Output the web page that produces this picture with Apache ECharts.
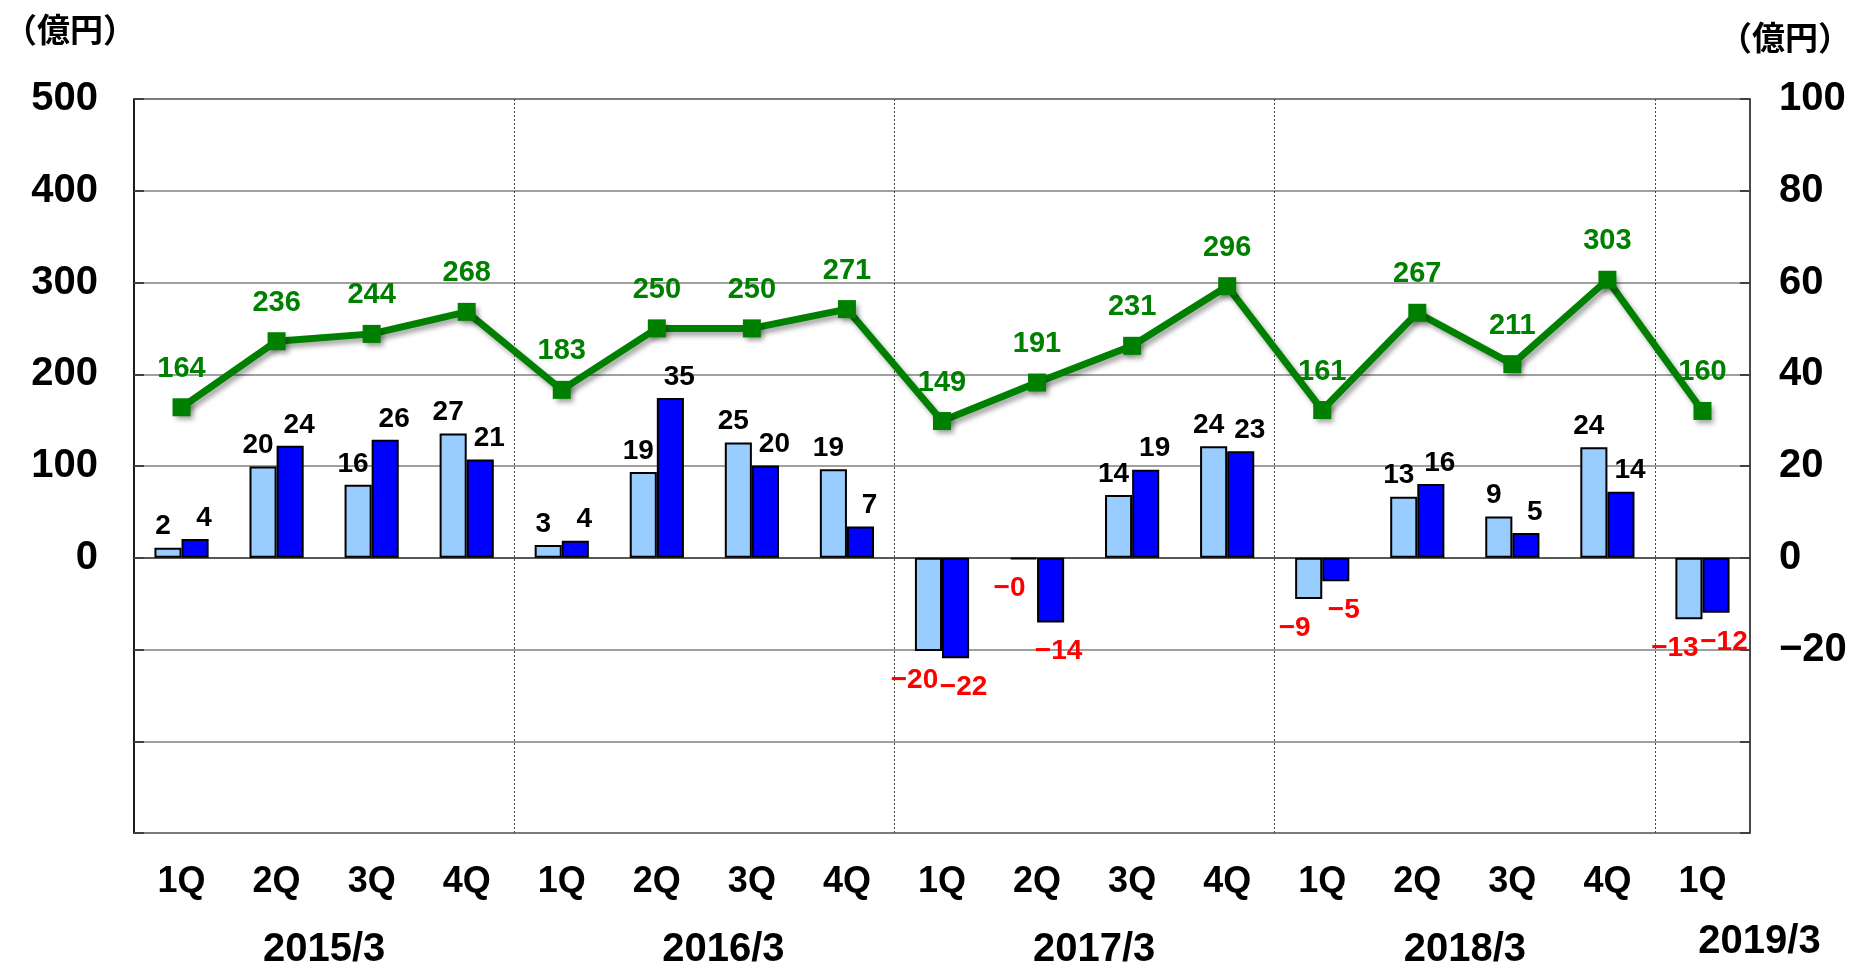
<!DOCTYPE html>
<html><head><meta charset="utf-8">
<script src="https://cdn.jsdelivr.net/npm/echarts@6/dist/echarts.min.js"></script>
<style>html,body{margin:0;padding:0;background:#fff;}#c{width:1853px;height:968px;}</style>
</head><body><div id="c"></div>
<script>
const categories = ['1Q','2Q','3Q','4Q','1Q','2Q','3Q','4Q','1Q','2Q','3Q','4Q','1Q','2Q','3Q','4Q','1Q'];
const years = ['2015/3','2016/3','2017/3','2018/3','2019/3'];
const yearPos = [2.0, 6.2, 10.1, 14.0, 17.1];
const lineValues = [164,236,244,268,183,250,250,271,149,191,231,296,161,267,211,303,160];
const lightValues = [2.2,19.9,15.9,27.1,2.8,18.7,25.1,19.3,-20.3,-0.3,13.7,24.3,-9.0,13.3,9.0,24.1,-13.4];
const darkValues = [4.1,24.4,25.7,21.4,3.7,34.8,20.1,6.8,-21.9,-14.1,19.2,23.2,-5.1,16.1,5.4,14.4,-12.0];
const leftTicks = {min:-300, max:500, interval:100};
const rightTicks = {min:-60, max:100, interval:20};

const FONT = "'Liberation Sans Narrow','Liberation Sans',sans-serif";
const fmtSigned = v => (v < 0 || Object.is(v, -0)) ? '\u2212' + Math.abs(Math.round(v)) : String(Math.round(v));

function barData(vals, negOffsetX){
  return vals.map(v => ({value: v, label: v < 0
    ? {color: '#FF0000', distance: 15, offset: [negOffsetX, 0]}
    : {color: '#000000'}}));
}

const chart = echarts.init(document.getElementById('c'), null, {renderer:'canvas'});
const titleStyle = {fontFamily: "'Noto Sans CJK JP'", fontWeight: 'bold', fontSize: 33, color: '#000'};
chart.setOption({
  animation: false,
  backgroundColor: '#ffffff',
  title: [
    {text: '（億円）', left: -1, top: 8, textStyle: titleStyle},
    {text: '（億円）', left: 1714, top: 16, textStyle: titleStyle}
  ],
  grid: {left: 134, right: 103, top: 99, bottom: 135, show: true, borderColor: '#404040', borderWidth: 1.5, containLabel: false},
  xAxis: {
    type: 'category', data: categories,
    axisLine: {show: true, lineStyle: {color: '#404040', width: 1.5}},
    axisTick: {show: false},
    axisLabel: {fontFamily: FONT, fontWeight: 'bold', fontSize: 36, color: '#000', margin: 31, interval: 0},
    splitLine: {show: true, interval: (i) => i > 0 && i % 4 === 0, lineStyle: {type: [2, 2], color: '#444', width: 1}}
  },
  yAxis: [
    {type: 'value', min: leftTicks.min, max: leftTicks.max, interval: leftTicks.interval,
     axisLine: {show: true, lineStyle: {color: '#000', width: 1.5}},
     axisTick: {show: true, inside: true, length: 10, lineStyle: {color: '#404040', width: 2}},
     axisLabel: {fontFamily: FONT, fontWeight: 'bold', fontSize: 40, color: '#000', margin: 36,
                 formatter: v => v < 0 ? '' : String(v)},
     splitLine: {show: true, lineStyle: {color: '#808080', width: 1.5}}},
    {type: 'value', min: rightTicks.min, max: rightTicks.max, interval: rightTicks.interval, position: 'right',
     axisLine: {show: true, lineStyle: {color: '#404040', width: 1.5}},
     axisTick: {show: true, inside: true, length: 10, lineStyle: {color: '#404040', width: 2}},
     axisLabel: {fontFamily: FONT, fontWeight: 'bold', fontSize: 40, color: '#000', margin: 29,
                 formatter: v => v < -20 ? '' : (v < 0 ? '\u2212' + Math.abs(v) : String(v))},
     splitLine: {show: false}}
  ],
  series: [
    {name: 'light', type: 'bar', yAxisIndex: 1, data: barData(lightValues, -14),
     barGap: '0%', barCategoryGap: '43%',
     itemStyle: {color: '#99CCFF', borderColor: '#000', borderWidth: 2},
     label: {show: true, position: 'outside', distance: 7, offset: [-5, 0], fontFamily: FONT, fontWeight: 'bold', fontSize: 28,
             formatter: p => fmtSigned(p.value)}},
    {name: 'dark', type: 'bar', yAxisIndex: 1, data: barData(darkValues, 8),
     itemStyle: {color: '#0000FF', borderColor: '#000', borderWidth: 2},
     label: {show: true, position: 'outside', distance: 7, offset: [9, 0], fontFamily: FONT, fontWeight: 'bold', fontSize: 28,
             formatter: p => fmtSigned(p.value)}},
    {name: 'line', type: 'line', yAxisIndex: 0, data: lineValues, z: 5,
     symbol: 'rect', symbolSize: 18,
     lineStyle: {color: '#008000', width: 7, shadowColor: 'rgba(0,0,0,0.35)', shadowBlur: 5, shadowOffsetX: 3, shadowOffsetY: 4},
     itemStyle: {color: '#008000', shadowColor: 'rgba(0,0,0,0.35)', shadowBlur: 5, shadowOffsetX: 3, shadowOffsetY: 4},
     label: {show: true, position: 'top', distance: 15, color: '#008000', fontFamily: FONT, fontWeight: 'bold', fontSize: 29}}
  ]
});

const p0 = chart.convertToPixel({xAxisIndex: 0}, 0);
const p1 = chart.convertToPixel({xAxisIndex: 0}, 1);
const w = p1 - p0;
chart.setOption({
  graphic: years.map((t, i) => ({
    type: 'text', x: p0 + (yearPos[i] - 0.5) * w, y: i === 4 ? 942 : 950,
    style: {text: t, fill: '#000', font: 'bold 40px ' + FONT, align: 'center', verticalAlign: 'middle'}
  }))
});
</script></body></html>
